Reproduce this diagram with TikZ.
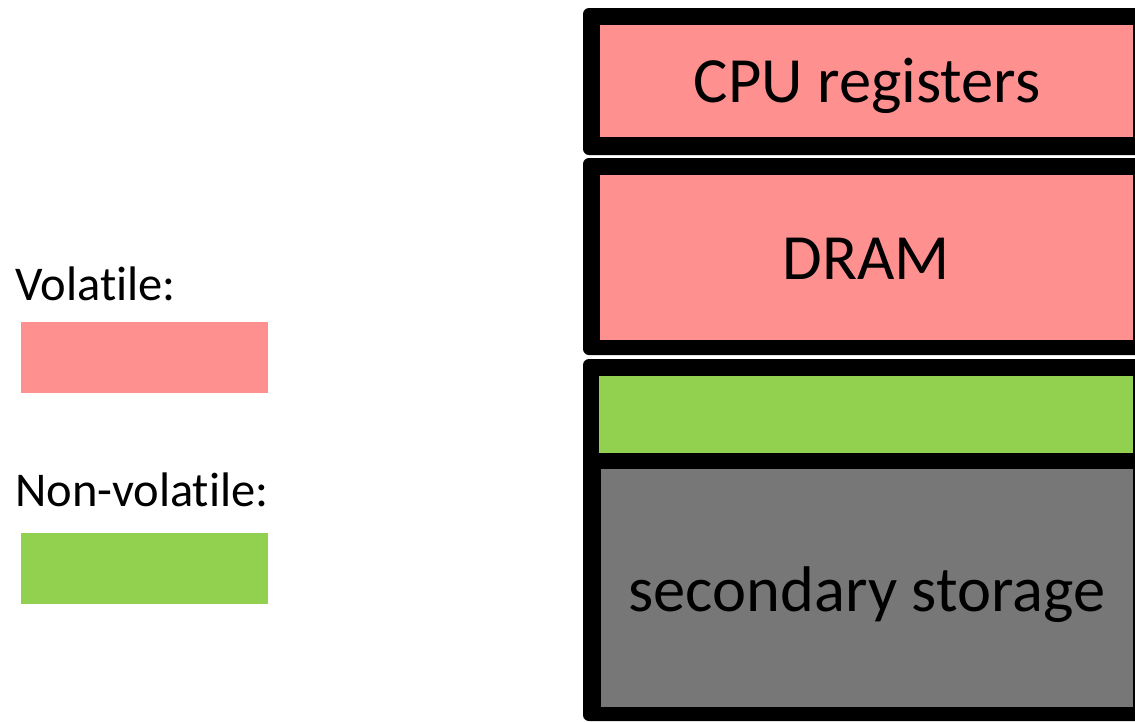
\documentclass[tikz,border=0pt]{standalone}
\usepackage{fontspec}
\setmainfont{Carlito}[Ligatures=NoCommon]
\definecolor{volred}{HTML}{FF9090}
\definecolor{nvgreen}{HTML}{92D050}
\definecolor{diskgray}{HTML}{777777}
\begin{document}
\begin{tikzpicture}[x=1pt,y=-1pt,
  frame/.style={fill=black, rounded corners=6pt},
  layer/.style={draw=none, inner sep=0pt, outer sep=0pt, anchor=north west},
  big/.style={font=\fontsize{64.5}{70}\selectfont, anchor=base, inner sep=0pt},
  legendtext/.style={font=\fontsize{48.5}{54}\selectfont, anchor=base west, inner sep=0pt},
  swatch/.style={draw=none, inner sep=0pt, anchor=north west, minimum width=247pt, minimum height=71pt}]
\useasboundingbox (0,0) rectangle (1135,721);
\begin{scope}
\clip (0,0) rectangle (1135,721);
% black frames of the three levels
\fill[frame] (583,8) rectangle (1160,155);
\fill[frame] (583,158) rectangle (1160,355);
\fill[frame] (583,359) rectangle (1160,721);
% coloured layers
\node[layer, fill=volred, minimum width=533pt, minimum height=112pt] (cpu) at (600,25) {};
\node[layer, fill=volred, minimum width=533pt, minimum height=165pt] (dram) at (600,175) {};
\node[layer, fill=nvgreen, minimum width=534pt, minimum height=77pt] (nvm) at (599,376) {};
\node[layer, fill=diskgray, minimum width=532pt, minimum height=238pt] (disk) at (601,469) {};
\end{scope}
% level labels
\node[big] (cpulab) at (867,102) {CPU registers};
\node[big] (dramlab) at (866,279) {DRAM};
\node[big] (disklab) at (867,611) {secondary storage};
% legend
\node[legendtext] (vlab) at (15,300) {Volatile:};
\node[swatch, fill=volred] (vkey) at (21,322) {};
\node[legendtext] (nvlab) at (15,506) {Non-volatile:};
\node[swatch, fill=nvgreen] (nvkey) at (21,533) {};
\end{tikzpicture}
\end{document}
